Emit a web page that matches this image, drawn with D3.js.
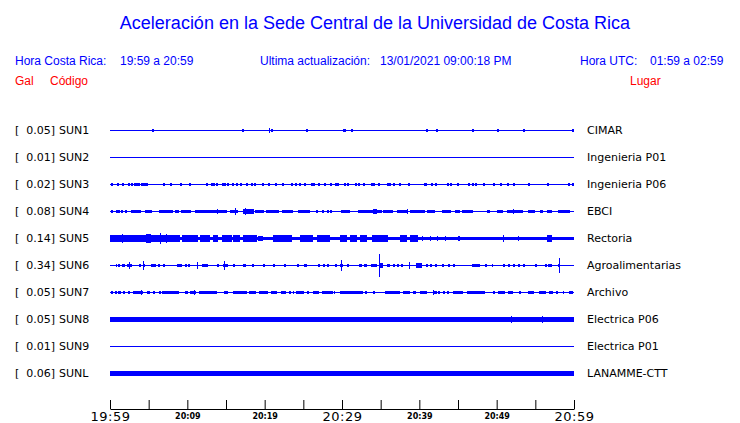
<!DOCTYPE html>
<html><head><meta charset="utf-8">
<script src="https://cdn.jsdelivr.net/npm/d3@7"></script>
<style>html,body{margin:0;padding:0;background:#fff;}svg{display:block;}</style>
</head><body>
<script>
// ---------- data ----------
const codes  = ["SUN1","SUN2","SUN3","SUN4","SUN5","SUN6","SUN7","SUN8","SUN9","SUNL"];
const places = ["CIMAR","Ingenieria P01","Ingenieria P06","EBCI","Rectoria","Agroalimentarias","Archivo","Electrica P06","Electrica P01","LANAMME-CTT"];
const peaks  = ["0.05","0.01","0.02","0.08","0.14","0.34","0.05","0.05","0.01","0.06"];
// background noise half-amplitude (Gal) per station
const floors = [0.015,0.015,0.015,0.015,0.05,0.015,0.015,0.062,0.015,0.062];
// bursts: [start minute, end minute, half-amplitude Gal]  (minutes after 19:59)
const eventsSUN1 = [[5.43,5.43,0.045],[17.07,17.07,0.045],[20.56,20.56,0.07],[20.82,20.82,0.05],[25.35,25.35,0.04],[30.1,30.5,0.05],[31.16,31.16,0.04],[40.86,40.86,0.045],[42.16,42.16,0.035],[46.81,46.81,0.045],[50.04,50.04,0.045],[53.41,53.41,0.045],[59.74,59.74,0.045]];
const eventsSUN2 = [];
const eventsSUN3 = [[0.1,0.3,0.045],[0.9,0.9,0.03],[1.55,1.55,0.035],[2.33,2.33,0.04],[2.72,2.72,0.04],[3.1,3.1,0.04],[3.36,3.36,0.04],[3.62,3.62,0.04],[4.0,4.9,0.045],[6.8,7.0,0.035],[7.76,7.76,0.035],[9.05,9.3,0.045],[10.2,10.5,0.045],[12.4,12.4,0.03],[13.06,13.06,0.035],[13.3,13.3,0.04],[13.7,13.7,0.035],[14.5,14.5,0.035],[14.74,14.74,0.035],[15.13,15.13,0.035],[15.8,15.8,0.035],[16.3,16.3,0.035],[16.8,16.8,0.035],[17.6,17.6,0.035],[18.2,18.2,0.035],[18.6,18.6,0.035],[19.65,19.65,0.035],[20.4,20.6,0.04],[21.3,21.3,0.03],[22.2,22.2,0.035],[23.4,23.4,0.035],[23.9,23.9,0.04],[24.4,24.4,0.035],[25.1,25.1,0.03],[26.0,26.0,0.035],[26.25,26.25,0.035],[26.9,26.9,0.035],[27.7,27.7,0.04],[28.45,28.45,0.035],[29.1,29.1,0.035],[29.35,29.35,0.035],[30.26,30.26,0.035],[30.65,30.65,0.035],[31.7,31.7,0.035],[32.1,32.1,0.03],[32.7,32.7,0.035],[33.75,33.75,0.035],[34.0,34.0,0.035],[34.65,34.65,0.035],[35.8,35.8,0.035],[36.1,36.1,0.035],[36.6,36.6,0.035],[37.4,37.6,0.04],[38.5,38.5,0.035],[40.6,41.0,0.04],[41.5,41.5,0.035],[42.0,42.0,0.035],[43.6,43.6,0.035],[44.0,44.0,0.035],[44.9,44.9,0.035],[46.3,46.3,0.035],[46.8,46.8,0.035],[47.2,47.2,0.035],[48.2,48.2,0.035],[49.5,49.5,0.03],[50.4,50.4,0.035],[51.3,51.3,0.035],[52.1,52.1,0.035],[54.05,54.05,0.035],[56.5,56.5,0.03],[59.2,59.2,0.035],[59.75,59.75,0.035]];
const eventsSUN4 = [[0.1,0.4,0.04],[0.8,0.8,0.03],[1.0,1.0,0.03],[1.4,1.4,0.03],[1.9,1.9,0.03],[2.7,4.0,0.045],[4.5,5.4,0.045],[6.3,8.1,0.045],[8.4,8.9,0.045],[9.2,10.5,0.045],[11.0,15.1,0.045],[13.8,13.8,0.08],[15.5,16.55,0.05],[16.2,16.2,0.09],[17.2,18.6,0.06],[17.5,17.5,0.09],[18.75,19.9,0.045],[20.2,21.85,0.045],[22.25,23.65,0.045],[24.3,25.9,0.045],[26.6,26.6,0.035],[27.4,27.4,0.035],[28.1,28.1,0.035],[28.45,28.45,0.035],[29.9,31.0,0.045],[32.1,35.2,0.045],[34.0,34.5,0.08],[35.3,36.6,0.045],[37.1,38.4,0.045],[38.4,38.4,0.08],[38.8,40.7,0.045],[41.0,42.0,0.045],[42.9,44.0,0.045],[44.6,45.25,0.045],[45.5,46.95,0.045],[48.75,49.1,0.045],[50.05,50.8,0.045],[51.3,53.4,0.045],[52.1,52.1,0.08],[54.05,55.0,0.045],[55.6,56.0,0.04],[56.5,57.2,0.045],[57.9,59.5,0.045]];
const eventsSUN5 = [[0,9.0,0.115],[1.5,1.5,0.14],[4.6,5.2,0.13],[6.45,6.45,0.17],[7.2,7.2,0.13],[9.3,11.4,0.09],[11.6,12.9,0.09],[13.3,14.0,0.09],[14.5,15.8,0.09],[15.9,16.8,0.09],[17.2,19.0,0.09],[19.1,19.8,0.085],[21.1,23.5,0.09],[24.6,26.25,0.09],[26.8,28.45,0.09],[29.7,30.6,0.09],[31.0,31.9,0.09],[32.3,33.2,0.09],[33.9,36.0,0.09],[37.5,38.4,0.09],[38.8,39.8,0.09],[39.4,39.4,0.115],[40.35,40.35,0.085],[41.4,41.4,0.085],[42.3,42.3,0.085],[43.3,43.3,0.085],[45.0,45.3,0.085],[50.8,50.8,0.1],[52.8,52.8,0.085],[56.5,57.2,0.09]];
const eventsSUN6 = [[0.8,0.9,0.04],[1.0,1.3,0.04],[1.55,1.95,0.045],[2.2,2.85,0.045],[2.45,2.45,0.09],[3.75,3.75,0.04],[4.25,4.55,0.05],[4.27,4.27,0.13],[5.3,5.95,0.045],[6.2,6.2,0.04],[6.85,6.85,0.04],[8.65,9.3,0.045],[9.7,9.7,0.04],[10.1,10.1,0.04],[11.25,11.25,0.09],[11.9,12.7,0.045],[13.85,14.1,0.045],[14.6,15.25,0.045],[14.75,14.75,0.12],[15.9,16.15,0.045],[17.2,17.6,0.045],[18.35,18.35,0.04],[19.8,20.05,0.045],[21.1,21.1,0.04],[22.5,22.5,0.04],[24.2,24.2,0.04],[25.1,25.5,0.045],[26.9,26.9,0.04],[27.55,27.55,0.04],[28.05,28.3,0.045],[29.1,29.35,0.045],[29.75,30.1,0.05],[29.87,29.87,0.15],[30.65,30.65,0.04],[32.2,32.6,0.045],[32.85,33.25,0.045],[33.75,34.5,0.045],[34.78,34.78,0.34],[34.9,35.3,0.07],[35.8,36.2,0.045],[36.6,36.6,0.04],[37.1,37.1,0.04],[37.6,37.6,0.04],[38.65,38.65,0.09],[39.55,40.35,0.06],[40.85,40.85,0.04],[41.4,41.4,0.04],[42.0,42.0,0.04],[42.9,42.9,0.04],[43.7,44.0,0.045],[44.35,44.35,0.04],[46.8,47.85,0.045],[48.5,48.75,0.045],[49.4,49.5,0.04],[50.8,50.8,0.04],[51.45,51.45,0.04],[52.1,52.1,0.04],[52.75,52.75,0.04],[53.4,53.4,0.04],[55.0,55.2,0.045],[56.25,56.25,0.04],[56.65,57.15,0.045],[57.9,57.9,0.04],[58.05,58.05,0.21]];
const eventsSUN7 = [[0.13,0.4,0.045],[0.65,0.9,0.045],[1.03,1.42,0.045],[1.68,1.94,0.045],[2.33,2.59,0.045],[2.97,4.27,0.045],[4.0,4.0,0.07],[4.78,5.17,0.045],[5.56,5.82,0.045],[6.34,6.34,0.04],[6.72,8.92,0.045],[9.7,10.1,0.045],[10.35,11.1,0.045],[10.86,10.86,0.07],[11.5,13.84,0.045],[14.74,15.26,0.045],[15.9,17.7,0.045],[17.97,18.88,0.045],[19.27,20.43,0.045],[20.82,21.6,0.045],[22.1,22.76,0.045],[23.15,23.4,0.045],[23.66,23.8,0.045],[24.05,25.09,0.045],[25.47,25.73,0.045],[26.25,27.03,0.045],[27.4,28.8,0.045],[28.97,29.1,0.045],[29.74,32.7,0.045],[32.97,33.23,0.045],[34.0,34.27,0.045],[35.56,37.5,0.045],[37.89,38.79,0.045],[39.18,39.57,0.045],[40.09,41.0,0.045],[41.77,42.29,0.045],[41.77,41.77,0.07],[42.4,42.4,0.04],[43.06,43.06,0.04],[43.58,43.58,0.04],[44.35,45.65,0.045],[46.17,48.5,0.045],[49.53,49.53,0.04],[50.17,51.08,0.045],[51.47,52.11,0.045],[52.89,52.89,0.04],[54.05,54.83,0.045],[55.48,56.38,0.045],[56.77,57.29,0.045],[57.68,57.68,0.04],[58.58,58.71,0.045],[59.36,59.87,0.045]];
const eventsSUN8 = [[0,0.3,0.075],[43.3,43.3,0.085],[51.8,51.8,0.09],[55.9,55.9,0.09]];
const eventsSUN9 = [];
const eventsSUNL = [[36.86,36.86,0.085]];
const allEvents = [eventsSUN1,eventsSUN2,eventsSUN3,eventsSUN4,eventsSUN5,eventsSUN6,eventsSUN7,eventsSUN8,eventsSUN9,eventsSUNL];

const tickMinutes = [0,5,10,15,20,25,30,35,40,45,50,55,60];
const tickLabels  = {0:"19:59",10:"20:09",20:"20:19",30:"20:29",40:"20:39",50:"20:49",60:"20:59"};
const majorTicks  = [0,30,60];

const titleText = "Aceleración en la Sede Central de la Universidad de Costa Rica";
const lastUpdate = "13/01/2021 09:00:18 PM";
const localRange = "19:59 a 20:59";
const utcRange   = "01:59 a 02:59";

// ---------- drawing ----------
const W = 740, H = 423;
const BLUE = "#0000ff", RED = "#ff0000";
const svg = d3.select("body").append("svg").attr("width", W).attr("height", H);

const x = d3.scaleLinear().domain([0, 60]).range([110, 574]);
const y = d3.scalePoint().domain(codes).range([130.5, 373.5]);
const amp = d3.scaleLinear().domain([0, 0.34]).range([0, 11.5]);

// title & header
svg.append("text").attr("x", 375).attr("y", 29).attr("text-anchor", "middle")
  .attr("font-family", "Liberation Sans, Arial, sans-serif").attr("font-size", 18)
  .attr("fill", BLUE).text(titleText);

const hdr = [
  [15, 65, "Hora Costa Rica:", BLUE], [120, 65, localRange, BLUE],
  [260, 65, "Ultima actualización:", BLUE], [380, 65, lastUpdate, BLUE],
  [580, 65, "Hora UTC:", BLUE], [650, 65, utcRange, BLUE],
  [15, 85, "Gal", RED], [50, 85, "Código", RED], [630, 85, "Lugar", RED]
];
svg.append("g").selectAll("text").data(hdr).join("text")
  .attr("x", d => d[0]).attr("y", d => d[1]).attr("fill", d => d[3])
  .attr("font-family", "Liberation Sans, Arial, sans-serif").attr("font-size", 12)
  .text(d => d[2]);

// station labels
const lab = svg.append("g").attr("font-family", "DejaVu Sans, sans-serif").attr("font-size", 11).attr("fill", "#000");
codes.forEach((c, i) => {
  const yy = y(c) + 3.5;
  lab.append("text").attr("x", 15).attr("y", yy).text("[");
  lab.append("text").attr("x", 55).attr("y", yy).attr("text-anchor", "end").text(peaks[i] + "]");
  lab.append("text").attr("x", 59).attr("y", yy).text(c);
  lab.append("text").attr("x", 587).attr("y", yy).text(places[i]);
});

// traces
const tr = svg.append("g").attr("fill", BLUE).attr("shape-rendering", "crispEdges");
codes.forEach((c, i) => {
  const yc = y(c);
  const g = tr.append("g");
  const fh = Math.max(0.5, amp(floors[i]));
  g.append("rect").attr("x", x(0)).attr("width", x(60) - x(0))
    .attr("y", yc - fh).attr("height", 2 * fh);
  g.selectAll("rect.ev").data(allEvents[i]).join("rect").attr("class", "ev")
    .attr("x", d => Math.round(x(d[0])))
    .attr("width", d => d[1] > d[0] ? Math.max(1, x(d[1]) - x(d[0])) : (d[2] > 0.06 ? 1 : 2))
    .attr("y", d => yc - amp(d[2]))
    .attr("height", d => 2 * amp(d[2]));
});

// time axis
const axis = d3.axisTop(x).tickValues(tickMinutes).tickSize(9).tickSizeOuter(0).tickFormat("");
const ax = svg.append("g").attr("transform", "translate(0,409)").call(axis);
ax.select(".domain").attr("stroke", "#000");
ax.selectAll(".tick line").attr("stroke", "#000");

svg.append("g").selectAll("text").data(Object.keys(tickLabels).map(Number)).join("text")
  .attr("x", d => x(d) + 0.5)
  .attr("y", d => majorTicks.includes(d) ? 421 : 419)
  .attr("text-anchor", "middle")
  .attr("font-family", "DejaVu Sans, sans-serif")
  .attr("font-size", d => majorTicks.includes(d) ? 13 : 8)
  .attr("font-weight", d => majorTicks.includes(d) ? "normal" : "bold")
  .attr("letter-spacing", d => majorTicks.includes(d) ? 0.5 : 0)
  .text(d => tickLabels[d]);
</script>
</body></html>
